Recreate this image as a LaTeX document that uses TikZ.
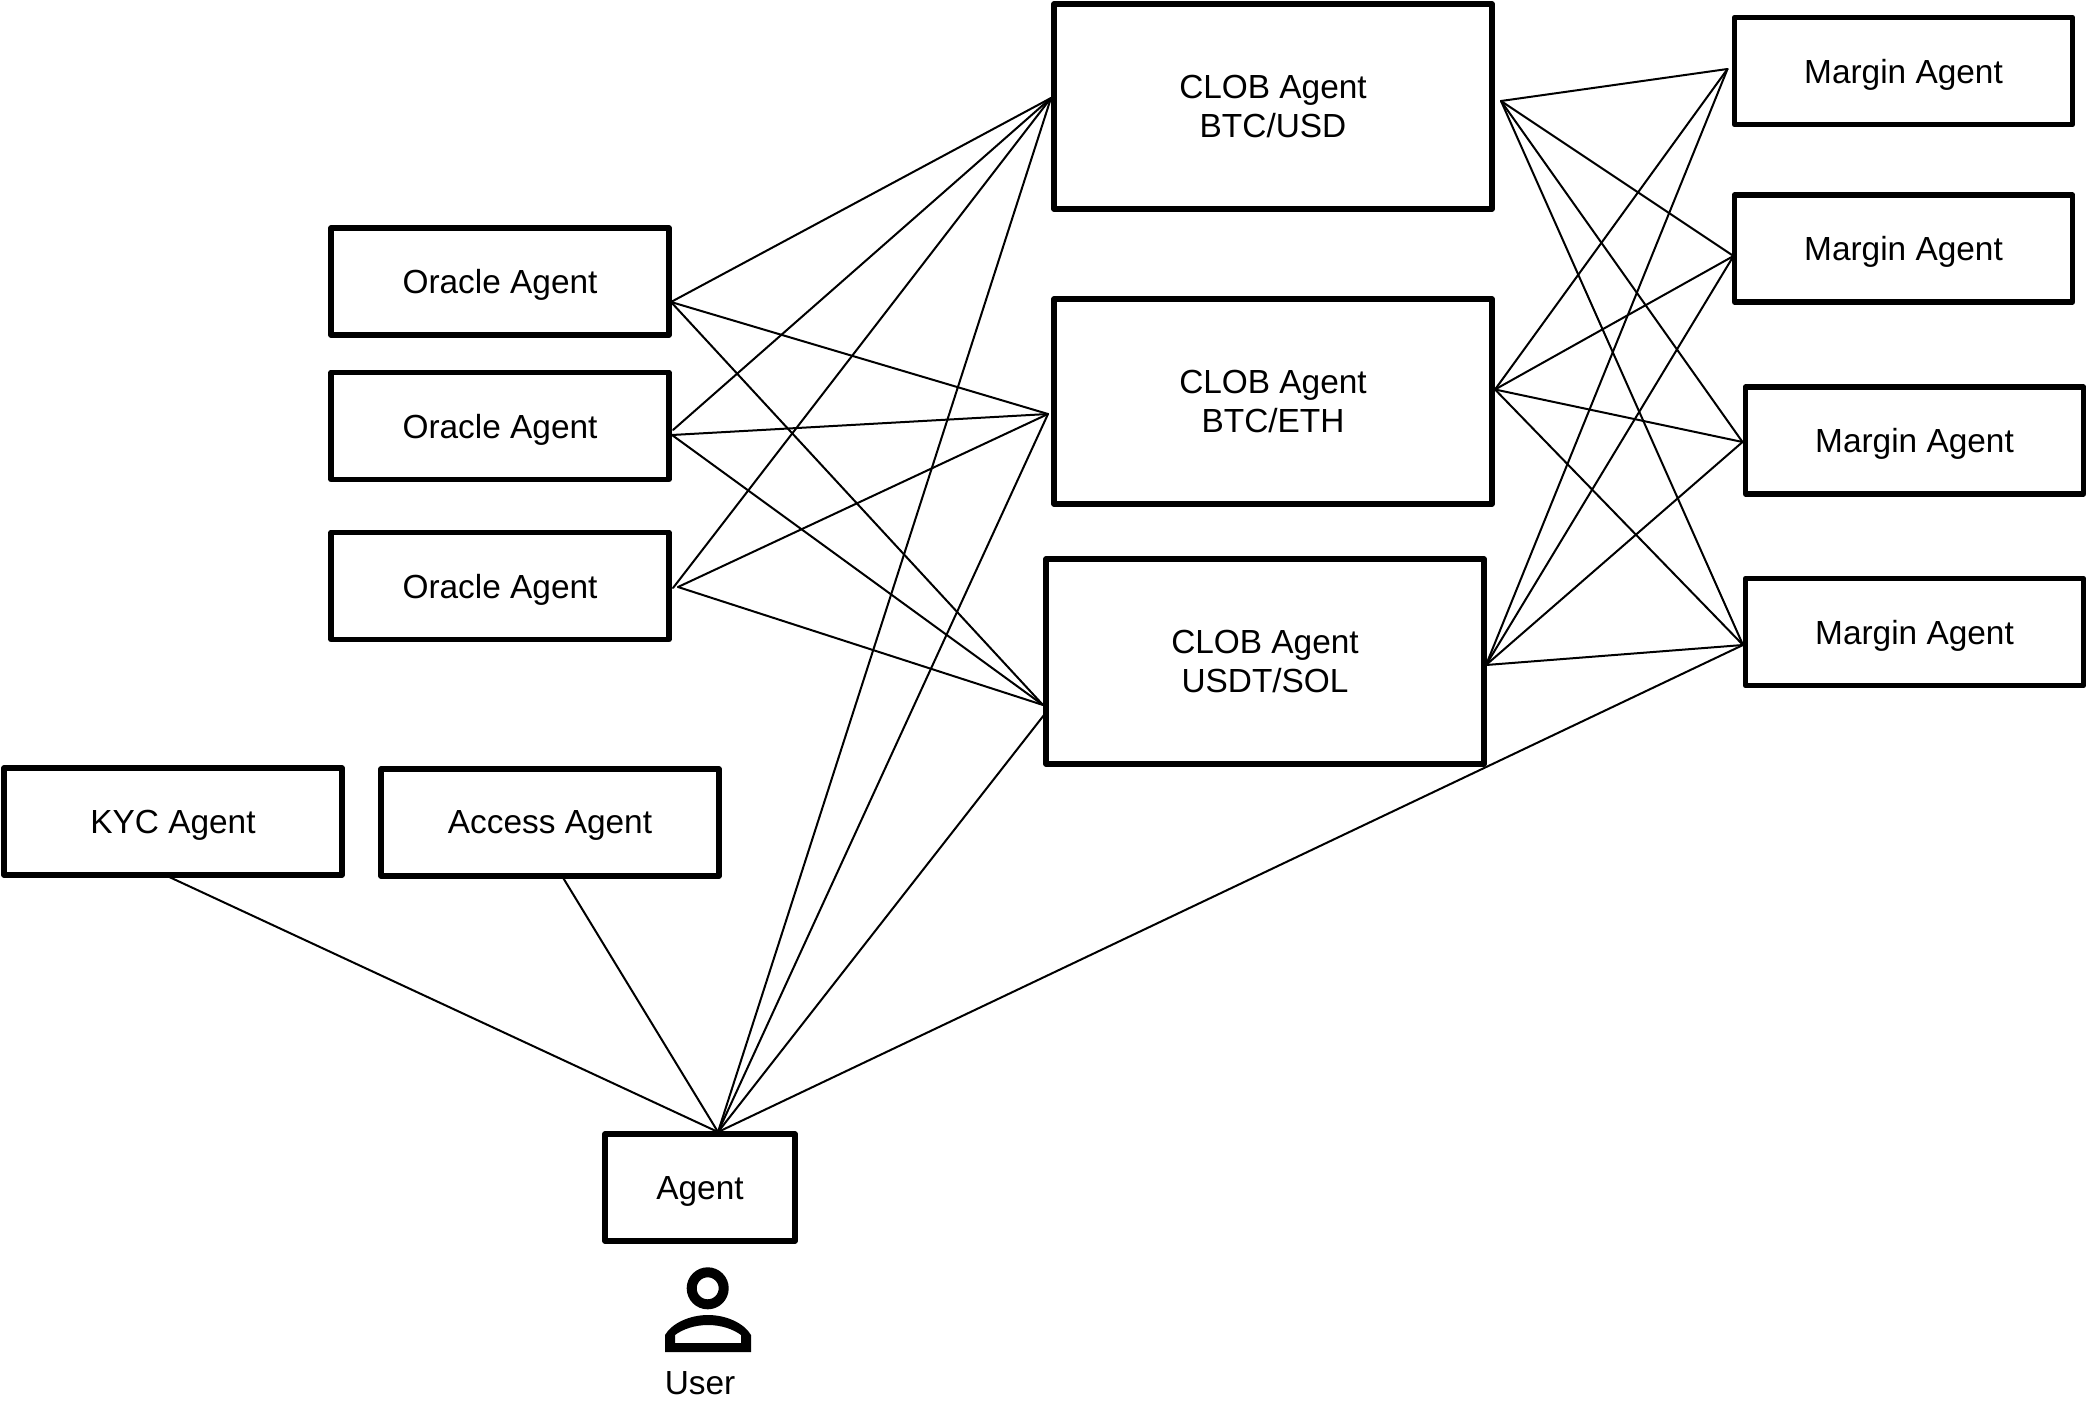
\documentclass[tikz,border=0pt]{standalone}
\usepackage{fontspec}
\setmainfont{Liberation Sans}
\usepackage{tikz}
\tikzset{
agentbox/.style={draw,line width=2.75pt,line join=round,align=center,outer sep=0pt,text depth=0pt,minimum width=169pt,minimum height=53.5pt,inner sep=0pt,font=\fontsize{16.7}{19.3}\selectfont},
clobbox/.style={agentbox,minimum width=219pt,minimum height=102.5pt},
link/.style={line width=1pt,line cap=round,line join=round}
}
\begin{document}
\begin{tikzpicture}[x=0.5pt,y=-0.5pt]
\useasboundingbox(0,0)rectangle(2087,1412);
% boxes
\node[agentbox](oracleA)at(500,281.5){Oracle Agent};
\node[agentbox](oracleB)at(500,426){Oracle Agent};
\node[agentbox](oracleC)at(500,586){Oracle Agent};
\node[agentbox](kyc)at(173,821.5){KYC Agent};
\node[agentbox](access)at(550,822.5){Access Agent};
\node[agentbox,minimum width=95pt](agent)at(700,1187.5){Agent};
\node[clobbox](clobA)at(1273,106.5){CLOB Agent\\BTC/USD};
\node[clobbox](clobB)at(1273,401.5){CLOB Agent\\BTC/ETH};
\node[clobbox](clobC)at(1265,661.5){CLOB Agent\\USDT/SOL};
\node[agentbox](marginA)at(1903.5,71){Margin Agent};
\node[agentbox](marginB)at(1903.5,248.5){Margin Agent};
\node[agentbox](marginC)at(1914.5,440.5){Margin Agent};
\node[agentbox](marginD)at(1914.5,632){Margin Agent};
% user
\draw[line width=5pt](707.7,1288.3)circle(16);
\fill[even odd rule](665,1352)--(665,1335)..controls(672,1323)and(690,1315)..(708,1315)..controls(726,1315)and(744,1323)..(751,1335)--(751,1352)--cycle
(675,1343)--(741,1343)--(741,1335)..controls(733,1329)and(721,1325)..(708,1325)..controls(695,1325)and(683,1329)..(675,1335)--cycle;
\node[font=\fontsize{16.7}{19.3}\selectfont](user)at(700,1383){User};
% ports
\coordinate(oracleAout)at([shift={(2,20.5)}]oracleA.east);
\coordinate(oracleBout)at([shift={(3,9)}]oracleB.east);
\coordinate(oracleBup)at([shift={(4,4)}]oracleB.east);
\coordinate(oracleCout)at([shift={(9,1)}]oracleC.east);
\coordinate(oracleCup)at([shift={(4,2)}]oracleC.east);
\coordinate(clobAin)at([shift={(-3,-8.5)}]clobA.west);
\coordinate(clobBin)at([shift={(-6,12.5)}]clobB.west);
\coordinate(clobCin)at([shift={(-3,43.5)}]clobC.west);
\coordinate(clobClow)at([shift={(-2,53.5)}]clobC.west);
\coordinate(clobAout)at([shift={(9,-5.5)}]clobA.east);
\coordinate(clobBout)at([shift={(3,-12)}]clobB.east);
\coordinate(clobCout)at([shift={(2,3.5)}]clobC.east);
\coordinate(marginAin)at([shift={(-7,-2)}]marginA.west);
\coordinate(marginBin)at([shift={(-1,7.5)}]marginB.west);
\coordinate(marginCin)at([shift={(-3,1.5)}]marginC.west);
\coordinate(marginDin)at([shift={(-2.5,13)}]marginD.west);
\coordinate(agentin)at([shift={(18,-2)}]agent.north);
\coordinate(accessout)at([xshift=6pt]access.south);
\coordinate(kycout)at([xshift=-4pt]kyc.south);
% links
\foreach \a/\b in {oracleAout/clobAin,oracleAout/clobBin,oracleAout/clobCin,oracleBup/clobAin,oracleBout/clobBin,oracleBout/clobCin,oracleCup/clobAin,oracleCout/clobBin,oracleCout/clobCin}
\draw[link](\a)--(\b);
\foreach \a in {clobAout,clobBout,clobCout}
\foreach \b in {marginAin,marginBin,marginCin,marginDin}
\draw[link](\a)--(\b);
\foreach \b in {clobAin,clobBin,clobClow,marginDin,accessout,kycout}
\draw[link](agentin)--(\b);
\end{tikzpicture}
\end{document}
